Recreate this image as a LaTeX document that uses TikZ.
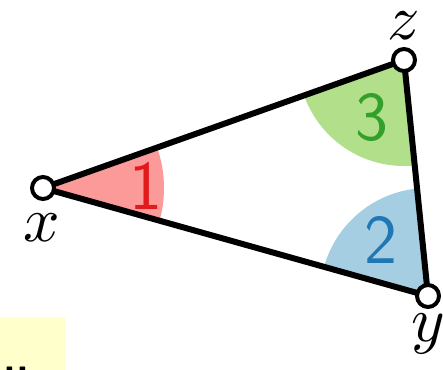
\documentclass[tikz,border=0pt]{standalone}
\usepackage{graphicx}
\usepackage{tikz}
\usetikzlibrary{calc}
\definecolor{redfill}{HTML}{FB9A99}
\definecolor{redtext}{HTML}{E31A1C}
\definecolor{bluefill}{HTML}{A6CEE3}
\definecolor{bluetext}{HTML}{1F78B4}
\definecolor{greenfill}{HTML}{B2DF8A}
\definecolor{greentext}{HTML}{33A02C}
\definecolor{notefill}{HTML}{FFFFCC}
\newcommand{\biglabel}[1]{\scalebox{6.4}{$#1$}}

\begin{document}
\begin{tikzpicture}[x=1pt, y=-1pt,
    vertex/.style={circle, draw=black, fill=white, line width=4pt, minimum size=22pt, inner sep=0pt},
    vlabel/.style={inner sep=0pt},
    anglabel/.style={font=\fontsize{70}{70}\selectfont\sffamily, inner sep=0pt}]
    % Define radii of the angle sectors
    \def\rx{121} % radius at x
    \def\ry{108} % radius at y
    \def\rz{106} % radius at z

    \useasboundingbox (0,0) rectangle (443,369);

    % --- Yellow note (cut off at the bottom) ---
    \begin{scope}
        \clip (0,0) rectangle (443,369);
        \fill[notefill] (0,317) rectangle (65,380);
        \node[anchor=base west, inner sep=0pt, font=\fontsize{42}{42}\selectfont\sffamily\bfseries] (dots) at (3,372) {..};
    \end{scope}

    % Corner positions
    \coordinate (px) at (43,188);
    \coordinate (py) at (428,296);
    \coordinate (pz) at (404,60);

    % --- Angle sectors, clipped by the triangle ---
    \begin{scope}
        \clip (px) -- (py) -- (pz) -- cycle;
        \fill[redfill] (px) circle (\rx pt);
        \fill[bluefill] (py) circle (\ry pt);
        \fill[greenfill] (pz) circle (\rz pt);
    \end{scope}

    % Angle numbers
    \node[anglabel, text=redtext] (a1) at (146,186) {1};
    \node[anglabel, text=bluetext] (a2) at (381,240) {2};
    \node[anglabel, text=greentext] (a3) at (372,118) {3};

    % --- Triangle edges ---
    \draw[line width=6pt] (px) -- (py) -- (pz) -- cycle;

    % Vertices
    \node[vertex] (x) at (px) {};
    \node[vertex] (y) at (py) {};
    \node[vertex] (z) at (pz) {};

    % Vertex labels
    \node[vlabel] (xl) at (42,228) {\biglabel{x}};
    \node[vlabel] (yl) at (428,334) {\biglabel{y}};
    \node[vlabel] (zl) at (404,26) {\biglabel{z}};
\end{tikzpicture}
\end{document}
